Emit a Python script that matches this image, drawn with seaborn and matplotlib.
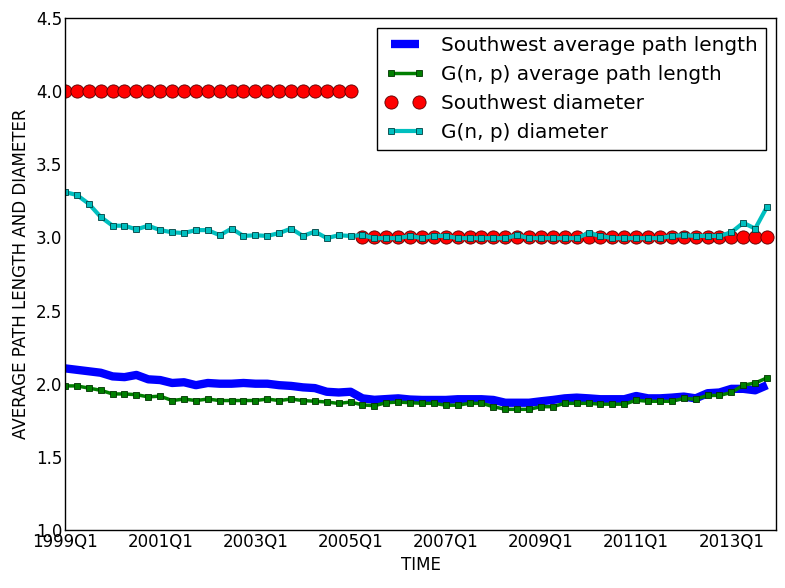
#!/usr/bin/env python3
"""
Average path length and diameter: Southwest network vs G(n, p) random graphs.
"""

import numpy as np
import pandas as pd
import matplotlib
matplotlib.use("Agg")
import matplotlib.pyplot as plt
import seaborn as sns

# Data (quarterly, 1999Q1 .. 2013Q4)
quarters = [f"{y}Q{q}" for y in range(1999, 2014) for q in range(1, 5)]

sw_apl = [2.105, 2.095, 2.085, 2.075, 2.05, 2.045, 2.06, 2.03, 2.025, 2.005,
          2.01, 1.99, 2.005, 2.0, 2.0, 2.005, 2.0, 2.0, 1.99, 1.985,
          1.975, 1.97, 1.945, 1.94, 1.945, 1.90, 1.89, 1.895, 1.90, 1.892,
          1.889, 1.889, 1.889, 1.894, 1.894, 1.894, 1.889, 1.87, 1.87, 1.87,
          1.88, 1.889, 1.90, 1.905, 1.90, 1.894, 1.894, 1.894, 1.916, 1.90,
          1.90, 1.905, 1.912, 1.90, 1.935, 1.94, 1.965, 1.965, 1.955, 1.99]

gnp_apl = [1.985, 1.985, 1.97, 1.955, 1.93, 1.93, 1.925, 1.91, 1.915, 1.885,
           1.895, 1.885, 1.895, 1.885, 1.885, 1.885, 1.885, 1.895, 1.885, 1.895,
           1.885, 1.88, 1.875, 1.865, 1.875, 1.855, 1.85, 1.87, 1.875, 1.87,
           1.866, 1.866, 1.853, 1.853, 1.866, 1.866, 1.843, 1.825, 1.825, 1.825,
           1.843, 1.843, 1.866, 1.866, 1.866, 1.86, 1.86, 1.86, 1.887, 1.88,
           1.88, 1.88, 1.90, 1.894, 1.92, 1.92, 1.94, 1.99, 2.005, 2.04]

sw_diam = [4.0] * 25 + [3.0] * 35

gnp_diam = [3.31, 3.29, 3.23, 3.14, 3.08, 3.08, 3.055, 3.08, 3.05, 3.035,
            3.03, 3.05, 3.05, 3.015, 3.06, 3.01, 3.015, 3.01, 3.03, 3.06,
            3.01, 3.04, 2.995, 3.015, 3.01, 3.015, 2.995, 2.995, 2.995, 3.01,
            2.995, 3.01, 3.01, 2.995, 2.995, 2.995, 2.995, 2.995, 3.015, 2.995,
            2.995, 2.995, 2.995, 2.995, 3.03, 3.01, 2.995, 2.995, 2.995, 2.995,
            2.995, 3.01, 3.015, 3.01, 3.01, 3.01, 3.035, 3.10, 3.06, 3.21]

tick_labels = ["1999Q1", "2001Q1", "2003Q1", "2005Q1",
               "2007Q1", "2009Q1", "2011Q1", "2013Q1"]

df = pd.DataFrame({
    "t": np.arange(len(quarters)),
    "quarter": quarters,
    "sw_apl": sw_apl,
    "gnp_apl": gnp_apl,
    "sw_diam": sw_diam,
    "gnp_diam": gnp_diam,
})

# Style
sns.set_style("white")
plt.rcParams["font.family"] = ["DejaVu Sans"]
plt.rcParams["font.size"] = 12
for key in ["text.color", "axes.labelcolor", "xtick.color", "ytick.color"]:
    plt.rcParams[key] = "black"

fig = plt.figure(figsize=(7.85, 5.88), dpi=100)
ax = fig.add_axes([65 / 785, 1 - 530 / 588, (776 - 65) / 785, (530 - 18) / 588])

sns.lineplot(data=df, x="t", y="sw_apl", ax=ax, color="#0000ff",
             linewidth=6, solid_capstyle="butt",
             label="Southwest average path length")
sns.lineplot(data=df, x="t", y="gnp_apl", ax=ax, color="#007f00",
             linewidth=2.5, marker="s", markersize=4.5,
             markeredgecolor="#003300", markeredgewidth=0.6,
             label="G(n, p) average path length")
sns.lineplot(data=df, x="t", y="sw_diam", ax=ax, color="#ff0000",
             linestyle="none", marker="o", markersize=9.5,
             markeredgecolor="#550000", markeredgewidth=0.6,
             label="Southwest diameter")
sns.lineplot(data=df, x="t", y="gnp_diam", ax=ax, color="#00bfbf",
             linewidth=3, marker="s", markersize=4.5,
             markeredgecolor="#004040", markeredgewidth=0.6,
             label="G(n, p) diameter")

ax.set_xlim(0, 59.75)
ax.set_ylim(1.0, 4.5)
ax.set_xticks([quarters.index(q) for q in tick_labels])
ax.set_xticklabels(tick_labels)
ax.set_yticks(np.arange(1.0, 4.51, 0.5))
ax.set_yticklabels([f"{v:.1f}" for v in np.arange(1.0, 4.51, 0.5)])
ax.tick_params(length=0, labelsize=12, pad=2, colors="black")
for s in ax.spines.values():
    s.set_color("black")
    s.set_linewidth(1.0)

ax.set_xlabel("TIME", fontsize=12, labelpad=4)
ax.set_ylabel("AVERAGE PATH LENGTH AND DIAMETER", fontsize=12, labelpad=4)

leg = ax.legend(loc="upper right", fontsize=14.4, numpoints=2,
                fancybox=False, framealpha=1, edgecolor="black",
                handlelength=2.0, borderaxespad=0.5)
leg.get_frame().set_linewidth(1.0)
for txt in leg.get_texts():
    txt.set_color("black")

plt.savefig("out.png", dpi=100)
plt.close()
